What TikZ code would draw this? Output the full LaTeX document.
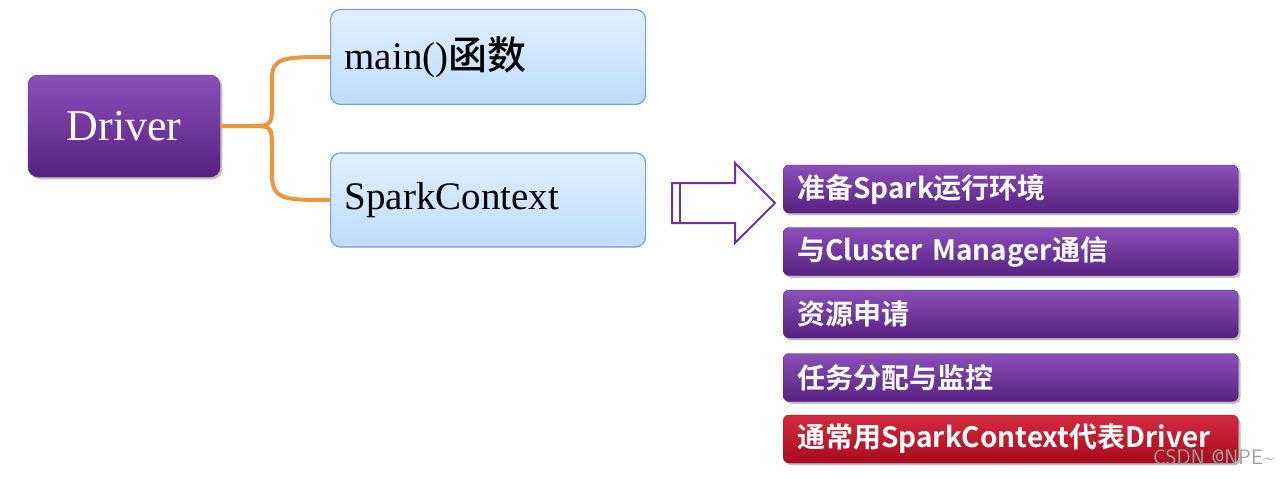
\documentclass[tikz,border=0pt]{standalone}
\usepackage{fontspec}
\setmainfont{Liberation Serif}
\newfontfamily\cjkb{Noto Sans CJK SC Bold}
\newfontfamily\cjkserif{Noto Sans CJK SC Medium}
\usetikzlibrary{shadows}
\definecolor{purp}{RGB}{112,48,160}
\definecolor{purpd}{RGB}{88,32,130}
\definecolor{purpl}{RGB}{140,80,185}
\definecolor{blu}{RGB}{190,220,250}
\definecolor{bluel}{RGB}{225,240,255}
\definecolor{bluee}{RGB}{120,160,210}
\definecolor{redb}{RGB}{205,20,40}
\definecolor{redd}{RGB}{170,10,30}
\definecolor{orng}{RGB}{235,150,60}
\tikzset{
  drvbox/.style={rounded corners=10pt,top color=purpl,bottom color=purpd,draw=purpd,drop shadow,text=white,font=\fontsize{44}{46}\selectfont},
  bluebox/.style={rounded corners=10pt,top color=bluel,bottom color=blu,draw=bluee,line width=1.2pt,font=\fontsize{39}{41}\selectfont,anchor=west,align=left,inner xsep=14pt,text width=287pt},
  itembox/.style={rounded corners=6pt,top color=purpl,bottom color=purpd,draw=purpd,drop shadow,text=white,anchor=west,inner sep=0pt,font=\cjkb\fontsize{28}{30}\selectfont},
  redbox/.style={itembox,top color=redb!90!white,bottom color=redd,draw=redd},
}
\begin{document}
\begin{tikzpicture}[x=1pt,y=-1pt]
\useasboundingbox (0,0) rectangle (1280,479);
\fill[white] (0,0) rectangle (1280,479);
\node[drvbox,minimum width=192pt,minimum height=102pt] (drv) at (124,126) {Driver};
\node[bluebox,minimum height=95pt] (mainf) at (330,57) {main()\cjkserif 函数};
\node[bluebox,minimum height=94pt] (sc) at (330,200) {SparkContext};
\draw[orng,line width=4pt] (drv.east) -- (250,126) .. controls (272,126) and (272,126) .. (272,100) -- (272,78) .. controls (272,57) and (285,57) .. (mainf.west);
\draw[orng,line width=4pt] (250,126) .. controls (272,126) and (272,126) .. (272,150) -- (272,175) .. controls (272,200) and (285,200) .. (sc.west);
\foreach \n/\y/\t in {a/189/准备Spark运行环境,b/251.5/与Cluster Manager通信,c/314/资源申请,d/377.5/任务分配与监控}
  \node[itembox,minimum width=455pt,minimum height=48pt,text width=455pt,align=left] (\n) at (783,\y) {\hspace*{14pt}\mbox{\t}};
\node[redbox,minimum width=455pt,minimum height=48pt,text width=455pt,align=left] (e) at (783,439) {\hspace*{14pt}\mbox{通常用SparkContext代表Driver}};
\coordinate (tip) at (775,203);
\draw[purp,line width=2pt,fill=white] (672,183) -- (735,183) -- (735,163) -- (tip) -- (735,243) -- (735,223) -- (672,223) -- cycle;
\draw[purp,line width=2pt] (680,183) -- (680,223);
\node[text=gray!75,font=\fontsize{21}{22}\selectfont\sffamily,anchor=east] (wm) at (1278,457) {CSDN @NPE\textasciitilde};
\end{tikzpicture}
\end{document}
